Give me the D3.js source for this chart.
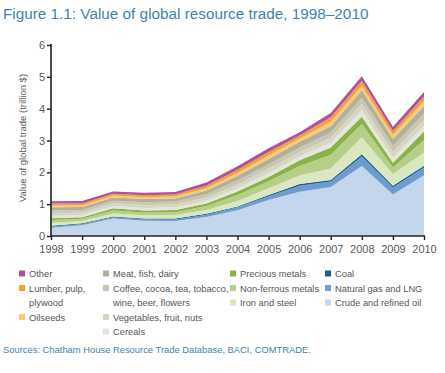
<!DOCTYPE html>
<html><head><meta charset="utf-8">
<script src="https://cdn.jsdelivr.net/npm/d3@7"></script>
<style>
html,body{margin:0;padding:0;background:#fff;}
svg{display:block;font-family:"Liberation Sans",Arial,Helvetica,sans-serif;}
</style></head>
<body>
<svg id="c" width="445" height="373"></svg>
<script>
const years = [1998,1999,2000,2001,2002,2003,2004,2005,2006,2007,2008,2009,2010];
const yTicks = [0,1,2,3,4,5,6];
const crude      = [0.26,0.34,0.55,0.48,0.47,0.60,0.81,1.13,1.39,1.54,2.20,1.30,1.91];
const gas        = [0.04,0.04,0.04,0.05,0.05,0.07,0.09,0.12,0.19,0.17,0.30,0.22,0.24];
const coal       = [0.02,0.02,0.02,0.02,0.03,0.03,0.03,0.04,0.05,0.05,0.07,0.06,0.06];
const ironSteel  = [0.10,0.07,0.10,0.10,0.11,0.12,0.17,0.21,0.27,0.36,0.53,0.37,0.41];
const nonFerrous = [0.08,0.07,0.09,0.09,0.09,0.12,0.19,0.22,0.30,0.43,0.42,0.20,0.40];
const precious   = [0.06,0.05,0.07,0.06,0.07,0.08,0.11,0.13,0.18,0.23,0.23,0.15,0.26];
const cereals    = [0.07,0.07,0.07,0.08,0.08,0.09,0.10,0.12,0.12,0.15,0.20,0.16,0.18];
const vegetables = [0.09,0.08,0.09,0.09,0.09,0.10,0.12,0.14,0.14,0.16,0.20,0.19,0.20];
const coffee     = [0.08,0.08,0.08,0.09,0.09,0.10,0.12,0.14,0.14,0.16,0.19,0.18,0.19];
const meat       = [0.10,0.09,0.10,0.10,0.10,0.12,0.15,0.17,0.18,0.20,0.24,0.22,0.23];
const oilseeds   = [0.06,0.05,0.06,0.06,0.06,0.07,0.09,0.11,0.10,0.14,0.14,0.13,0.15];
const lumber     = [0.06,0.06,0.06,0.06,0.06,0.08,0.10,0.11,0.10,0.14,0.16,0.12,0.15];
const other      = [0.07,0.08,0.07,0.08,0.08,0.10,0.11,0.12,0.10,0.13,0.14,0.13,0.14];

const seriesNames = ["Crude and refined oil","Natural gas and LNG","Coal","Iron and steel","Non-ferrous metals","Precious metals","Cereals","Vegetables, fruit, nuts","Coffee, cocoa, tea, tobacco, wine, beer, flowers","Meat, fish, dairy","Oilseeds","Lumber, pulp, plywood","Other"];
const seriesValues = [crude,gas,coal,ironSteel,nonFerrous,precious,cereals,vegetables,coffee,meat,oilseeds,lumber,other];
const colors = ["#c4d6eb","#6d9dcf","#1c5d8b","#dbe7c3","#b6cf88","#8ab246","#e5e5d8","#d6d6c5","#c7c7b3","#b1b19b","#f6c97b","#eda33a","#b2509a"];

const table = years.map((y,i)=>{const r={year:y}; seriesNames.forEach((n,k)=>r[n]=seriesValues[k][i]); return r;});

const svg = d3.select("#c");
const x = d3.scaleLinear().domain([1998,2010]).range([51,424]);
const y = d3.scaleLinear().domain([0,6]).range([236,45]);

const stack = d3.stack().keys(seriesNames);
const layers = stack(table);
const area = d3.area().x(d=>x(d.data.year)).y0(d=>y(d[0])).y1(d=>y(d[1]));
svg.append("g").selectAll("path").data(layers).join("path")
  .attr("d",area).attr("fill",(d,i)=>colors[i]);

// title
svg.append("text").attr("x",3).attr("y",19).attr("fill","#3f82b0")
  .attr("font-size","15.3px").text("Figure 1.1: Value of global resource trade, 1998\u20132010");

// axes
const yAxis = d3.axisLeft(y).tickValues(yTicks).tickSize(4).tickFormat(d3.format("d"));
const gy = svg.append("g").attr("transform","translate(51,0)").call(yAxis);
const xAxis = d3.axisBottom(x).tickValues(years).tickSize(4).tickFormat(d3.format("d"));
const gx = svg.append("g").attr("transform","translate(0,236)").call(xAxis);
[gy,gx].forEach(g=>{
  g.select(".domain").attr("stroke","#222").attr("stroke-width",1.6);
  g.selectAll(".tick line").attr("stroke","#222").attr("stroke-width",1.4);
  g.selectAll(".tick text").attr("fill","#5a5a5a").attr("font-size","11px")
    .attr("font-family","Liberation Sans, Arial, sans-serif");
});
gy.select(".domain").attr("d","M0,44V236");
gx.select(".domain").attr("d","M51,0H425");
gx.selectAll(".tick text").attr("dy","0.95em");
gy.selectAll(".tick text").attr("x",-6);

svg.append("text").attr("transform","translate(26,138) rotate(-90)")
  .attr("text-anchor","middle").attr("fill","#5a5a5a").attr("font-size","9.5px")
  .text("Value of global trade (trillion $)");

// legend
const legendItems = [
  {k:12, col:0, row:0, lines:["Other"]},
  {k:11, col:0, row:1, lines:["Lumber, pulp,","plywood"]},
  {k:10, col:0, row:3, lines:["Oilseeds"]},
  {k:9, col:1, row:0, lines:["Meat, fish, dairy"]},
  {k:8, col:1, row:1, lines:["Coffee, cocoa, tea, tobacco,","wine, beer, flowers"]},
  {k:7, col:1, row:3, lines:["Vegetables, fruit, nuts"]},
  {k:6, col:1, row:4, lines:["Cereals"]},
  {k:5, col:2, row:0, lines:["Precious metals"]},
  {k:4, col:2, row:1, lines:["Non-ferrous metals"]},
  {k:3, col:2, row:2, lines:["Iron and steel"]},
  {k:2, col:3, row:0, lines:["Coal"]},
  {k:1, col:3, row:1, lines:["Natural gas and LNG"]},
  {k:0, col:3, row:2, lines:["Crude and refined oil"]}
];
const colX = [19,103,230,325];
const rowY = [274,288.5,303,317.5,332];
const lg = svg.append("g");
legendItems.forEach(it=>{
  const cx = colX[it.col], cy = rowY[it.row];
  lg.append("rect").attr("x",cx).attr("y",cy-3.5).attr("width",6).attr("height",6).attr("fill",colors[it.k]);
  it.lines.forEach((t,j)=>{
    lg.append("text").attr("x",cx+10).attr("y",rowY[it.row+j]+3.3).attr("fill","#555")
      .attr("font-size","9.3px").text(t);
  });
});

svg.append("text").attr("x",3).attr("y",353).attr("fill","#3f82b0")
  .attr("font-size","9.4px").text("Sources: Chatham House Resource Trade Database, BACI, COMTRADE.");
</script>
</body></html>
